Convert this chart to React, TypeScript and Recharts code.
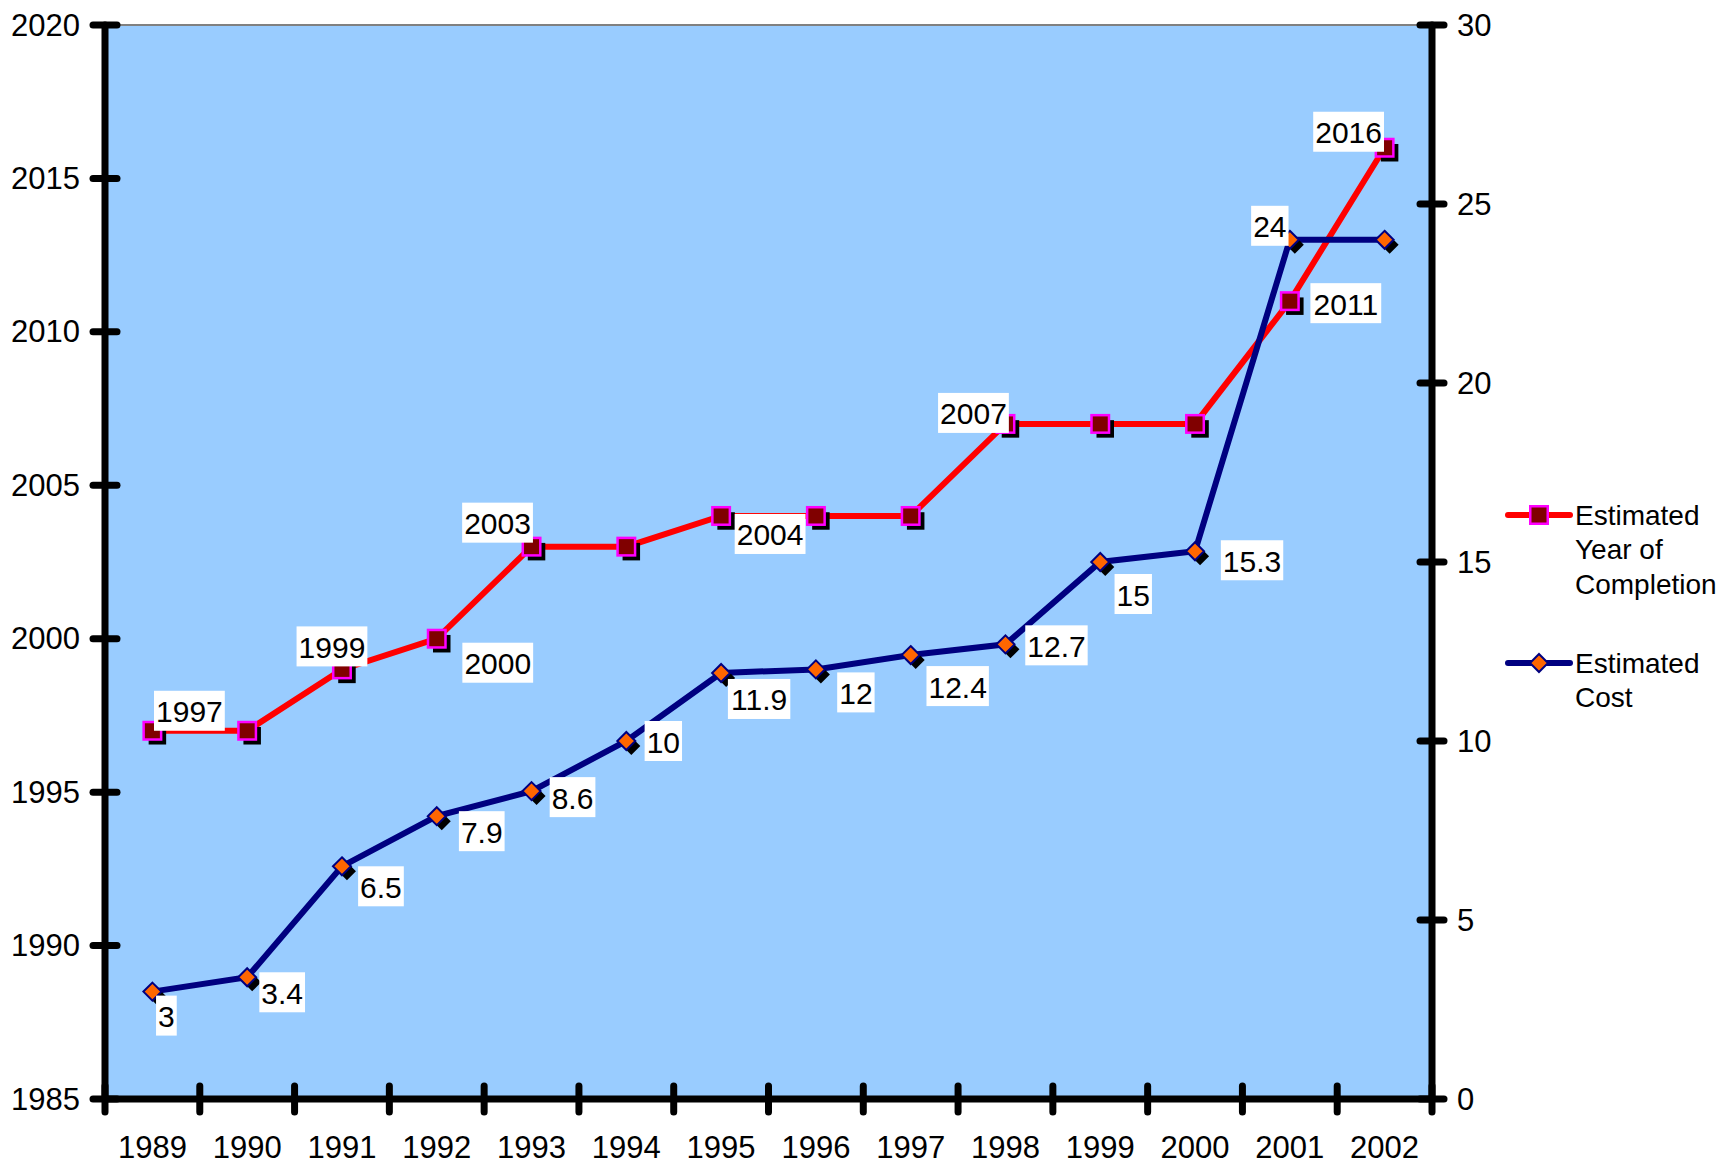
import React from "react";
import {
  LineChart,
  Line,
  XAxis,
  YAxis,
  CartesianGrid,
  ReferenceLine,
  LabelList,
  Legend,
} from "recharts";

const years = ["1989", "1990", "1991", "1992", "1993", "1994", "1995", "1996", "1997", "1998", "1999", "2000", "2001", "2002"];
const completionYear = [1997, 1997, 1999, 2000, 2003, 2003, 2004, 2004, 2004, 2007, 2007, 2007, 2011, 2016];
const estimatedCost = [3, 3.4, 6.5, 7.9, 8.6, 10, 11.9, 12, 12.4, 12.7, 15, 15.3, 24, 24];
const leftTicks = [1985, 1990, 1995, 2000, 2005, 2010, 2015, 2020];
const rightTicks = [0, 5, 10, 15, 20, 25, 30];

// the original only kept some of the labels
const completionShown = [true, false, true, true, true, false, true, false, false, true, false, false, true, true];
const costShown = [true, true, true, true, true, true, true, true, true, true, true, true, true, false];

// label box offsets from the point (px)
const completionOffset = [[37, -20], [0, 0], [-10, -23], [61, 24], [-34, -24], [0, 0], [49, 18], [0, 0], [0, 0], [-32, -11], [0, 0], [0, 0], [56, 2], [-36, -16]];
const costOffset = [[14, 24], [35, 15], [39, 20], [45, 15], [41, 6], [37, 0], [38, 26], [40, 23], [47, 31], [51, 1], [33, 32], [57, 9], [-20, -14], [0, 0]];

const data = years.map((y, i) => ({ year: y, completion: completionYear[i], cost: estimatedCost[i] }));

const W = 1726;
const H = 1164;
const PLOT_LEFT = 105;
const PLOT_RIGHT = 1432;
const PLOT_TOP = 25;
const BAND = (PLOT_RIGHT - PLOT_LEFT) / years.length;
const FONT = "'Liberation Sans', Arial, sans-serif";
const AXIS_FONT = 31;

const textWidth = (s: string) => s.split("").reduce((w, c) => w + (c === "." ? 8.3 : 16.7), 0);

const LeftTick = ({ x, y, payload }: any) => (
  <g>
    <line x1={x - 12} x2={x + 12} y1={y} y2={y} stroke="#000" strokeWidth={7} strokeLinecap="round" />
    <text x={x - 25} y={y} textAnchor="end" dominantBaseline="central" fontSize={AXIS_FONT} fontFamily={FONT} fill="#000">
      {payload.value}
    </text>
  </g>
);

const RightTick = ({ x, y, payload }: any) => (
  <g>
    <line x1={x - 12} x2={x + 12} y1={y} y2={y} stroke="#000" strokeWidth={7} strokeLinecap="round" />
    <text x={x + 25} y={y} textAnchor="start" dominantBaseline="central" fontSize={AXIS_FONT} fontFamily={FONT} fill="#000">
      {payload.value}
    </text>
  </g>
);

const BottomTick = ({ x, y, payload, index }: any) => (
  <g>
    {index === 0 && (
      <line x1={x - BAND / 2} x2={x - BAND / 2} y1={y - 13} y2={y + 13} stroke="#000" strokeWidth={7} strokeLinecap="round" />
    )}
    <line x1={x + BAND / 2} x2={x + BAND / 2} y1={y - 13} y2={y + 13} stroke="#000" strokeWidth={7} strokeLinecap="round" />
    <text x={x} y={y + 48} textAnchor="middle" dominantBaseline="central" fontSize={AXIS_FONT} fontFamily={FONT} fill="#000">
      {payload.value}
    </text>
  </g>
);

const SquareDot = ({ cx, cy, index }: any) => (
  <g key={`sq-${index}`}>
    <rect x={cx - 8.75 + 5} y={cy - 8.75 + 5} width={17.5} height={17.5} fill="#000" />
    <rect x={cx - 8.75} y={cy - 8.75} width={17.5} height={17.5} fill="#800000" stroke="#FF00FF" strokeWidth={2.5} />
  </g>
);

const diamond = (cx: number, cy: number, r: number) =>
  `M${cx},${cy - r} L${cx + r},${cy} L${cx},${cy + r} L${cx - r},${cy} Z`;

const DiamondDot = ({ cx, cy, index }: any) => (
  <g key={`dm-${index}`}>
    <path d={diamond(cx + 5, cy + 5, 9)} fill="#000" />
    <path d={diamond(cx, cy, 9)} fill="#FF6600" stroke="#000080" strokeWidth={2} />
  </g>
);

const makeLabel = (shown: boolean[], offsets: number[][]) => (props: any) => {
  const { x, y, value, index } = props;
  if (!shown[index]) return null;
  const [dx, dy] = offsets[index];
  const text = String(value);
  const w = textWidth(text) + 4;
  const cx = x + dx;
  const cy = y + dy;
  return (
    <g key={`lb-${index}`}>
      <rect x={cx - w / 2} y={cy - 20} width={w} height={40} fill="#fff" />
      <text x={cx} y={cy + 1} textAnchor="middle" dominantBaseline="central" fontSize={30} fontFamily={FONT} fill="#000">
        {text}
      </text>
    </g>
  );
};

const legendItems = [
  { lines: ["Estimated", "Year of", "Completion"], stroke: "#FF0000", marker: "square", y: 25 },
  { lines: ["Estimated", "Cost"], stroke: "#000080", marker: "diamond", y: 173 },
];

const LegendContent = () => (
  <svg width={226} height={240}>
    {legendItems.map((item) => (
      <g key={item.lines.join(" ")}>
        <line x1={8} x2={70} y1={item.y} y2={item.y} stroke={item.stroke} strokeWidth={6} strokeLinecap="round" />
        {item.marker === "square" ? (
          <rect x={39 - 8.75} y={item.y - 8.75} width={17.5} height={17.5} fill="#800000" stroke="#FF00FF" strokeWidth={2.5} />
        ) : (
          <path d={diamond(39, item.y, 9)} fill="#FF6600" stroke="#000080" strokeWidth={2} />
        )}
        {item.lines.map((t, i) => (
          <text key={t} x={75} y={item.y + i * 34.5} dominantBaseline="central" fontSize={28} fontFamily={FONT} fill="#000">
            {t}
          </text>
        ))}
      </g>
    ))}
  </svg>
);

export default function App() {
  return (
    <div style={{ position: "absolute", left: 0, top: 0, background: "#fff" }}>
      <LineChart
        width={W}
        height={H}
        data={data}
        margin={{ top: PLOT_TOP, right: W - PLOT_RIGHT - 100, left: 0, bottom: 0 }}
      >
        <CartesianGrid yAxisId="left" horizontal={false} vertical={false} fill="#99CCFF" />
        <XAxis
          dataKey="year"
          height={65}
          interval={0}
          padding={{ left: BAND / 2, right: BAND / 2 }}
          tickSize={0}
          tickMargin={0}
          tickLine={false}
          tick={<BottomTick />}
          axisLine={{ stroke: "#000", strokeWidth: 7, strokeLinecap: "round" }}
        />
        <YAxis
          yAxisId="left"
          width={PLOT_LEFT}
          domain={[1985, 2020]}
          ticks={leftTicks}
          interval={0}
          tickSize={0}
          tickMargin={0}
          tickLine={false}
          tick={<LeftTick />}
          axisLine={{ stroke: "#000", strokeWidth: 7, strokeLinecap: "round" }}
        />
        <YAxis
          yAxisId="right"
          orientation="right"
          width={100}
          domain={[0, 30]}
          ticks={rightTicks}
          interval={0}
          tickSize={0}
          tickMargin={0}
          tickLine={false}
          tick={<RightTick />}
          axisLine={{ stroke: "#000", strokeWidth: 7, strokeLinecap: "round" }}
        />
        <ReferenceLine yAxisId="left" y={2020} stroke="#808080" strokeWidth={2} />
        <Line
          yAxisId="left"
          dataKey="completion"
          stroke="#FF0000"
          strokeWidth={6}
          dot={SquareDot}
          activeDot={false}
          isAnimationActive={false}
        >
          <LabelList dataKey="completion" content={makeLabel(completionShown, completionOffset)} />
        </Line>
        <Line
          yAxisId="right"
          dataKey="cost"
          stroke="#000080"
          strokeWidth={6}
          dot={DiamondDot}
          activeDot={false}
          isAnimationActive={false}
        >
          <LabelList dataKey="cost" content={makeLabel(costShown, costOffset)} />
        </Line>
        <Legend
          layout="horizontal"
          align="center"
          verticalAlign="middle"
          content={<LegendContent />}
          wrapperStyle={{ left: 1500, top: 490, width: 226, height: 240 }}
        />
      </LineChart>
    </div>
  );
}
